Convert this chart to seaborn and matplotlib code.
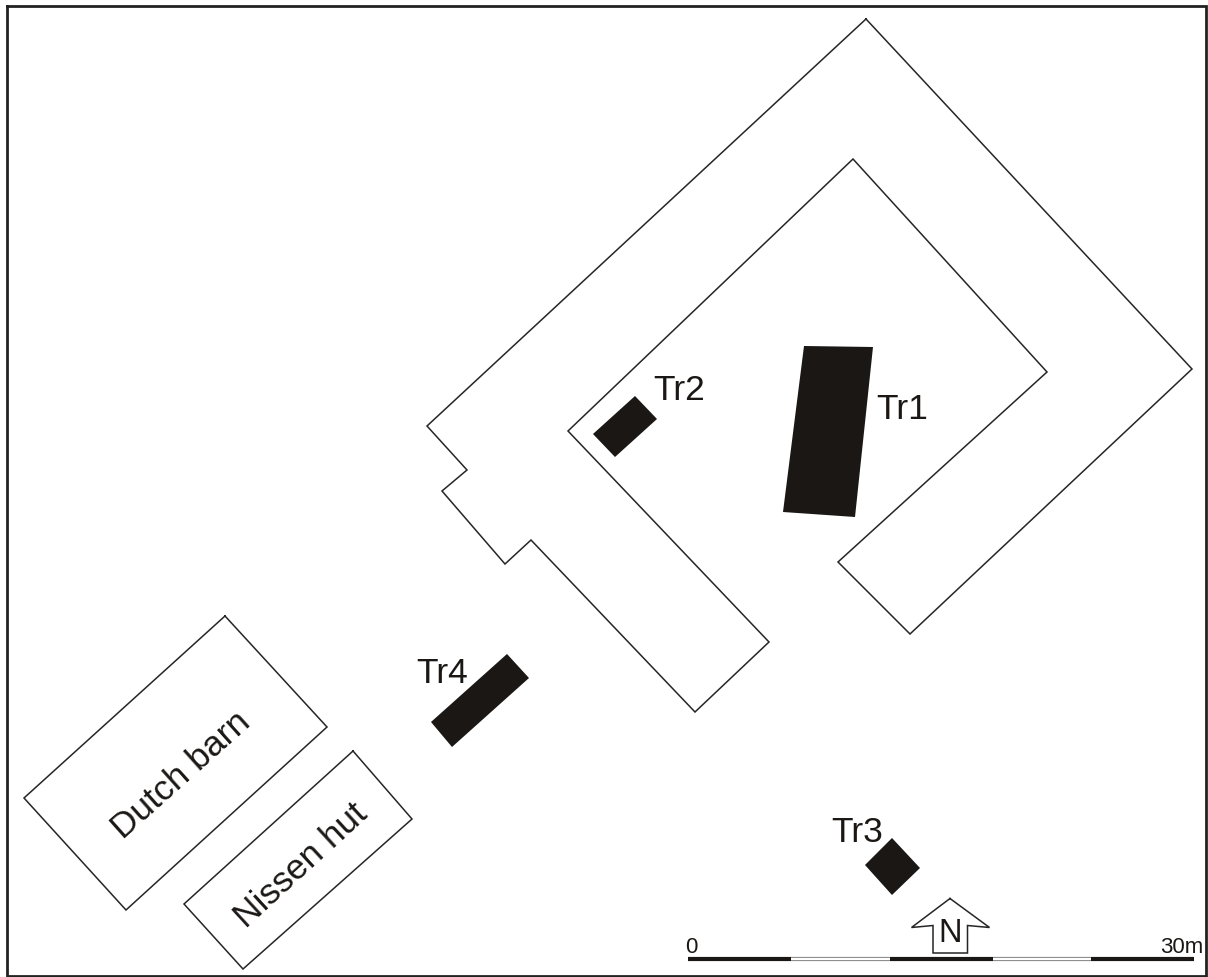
import pandas as pd
import seaborn as sns
import matplotlib
matplotlib.use("Agg")
import matplotlib.pyplot as plt
from matplotlib import font_manager as fm

sns.set_theme(style="white")
plt.rcParams['font.family'] = ['Liberation Sans', 'DejaVu Sans']

W, H = 1208, 978

# Site plan geometry, read in picture pixels
building_x = [866, 1192, 910, 838, 1047, 853, 568, 769, 695, 531, 505, 442, 467, 427, 866]
building_y = [20, 370, 635, 563, 373, 160, 432, 643, 713, 541, 565, 492, 471, 427, 20]
barn_x = [225, 327, 126, 24, 225]
barn_y = [617, 728, 911, 799, 617]
hut_x = [353, 412, 243, 184, 353]
hut_y = [752, 820, 970, 905, 752]
arrow_x = [950, 989.5, 967.5, 967.5, 933, 933, 911.5, 950]
arrow_y = [899.5, 928.5, 926.5, 954, 954, 926.5, 928.5, 899.5]
frame_x = [7, 1206, 1206, 7, 7]
frame_y = [7, 7, 976.5, 976.5, 7]

tr1_x, tr1_y = [804, 873, 855, 783], [347, 348, 518, 513]
tr2_x, tr2_y = [635, 657, 615, 593], [397, 420, 458, 435]
tr3_x, tr3_y = [892, 920, 892, 865], [839, 869, 896, 866]
tr4_x, tr4_y = [507, 529, 452, 431], [655, 679, 748, 723]

scale_edges = [688, 791, 889.5, 993, 1091, 1194]
scale_fill = ['black', 'white', 'black', 'white', 'black']
scale_y = 959.5

trench_labels = ['Tr1', 'Tr2', 'Tr3', 'Tr4']
trench_label_x = [902.5, 679, 857, 442.5]
trench_label_y = [419, 400.5, 842.5, 683]

fig = plt.figure(figsize=(W / 100, H / 100), dpi=100, facecolor='white')
ax = fig.add_axes([0, 0, 1, 1])

INK = '#1a1715'


def outline(xs, ys, lw=1.1, color='#262626'):
    df = pd.DataFrame({'x': xs, 'y': ys})
    sns.lineplot(data=df, x='x', y='y', sort=False, estimator=None, ax=ax,
                 color=color, linewidth=lw, legend=False,
                 solid_joinstyle='miter', solid_capstyle='projecting')


outline(building_x, building_y)
outline(barn_x, barn_y)
outline(hut_x, hut_y)
outline(arrow_x, arrow_y)
outline(frame_x, frame_y, lw=2.0, color='#222222')

for xs, ys in [(tr1_x, tr1_y), (tr2_x, tr2_y), (tr3_x, tr3_y), (tr4_x, tr4_y)]:
    ax.fill(xs, ys, color=INK, linewidth=0)

for i, fc in enumerate(scale_fill):
    left, right = scale_edges[i], scale_edges[i + 1]
    if fc == 'black':
        ax.plot([left, right], [scale_y, scale_y], color=INK, lw=3.0, solid_capstyle='butt')
    else:
        ax.plot([left, right], [scale_y, scale_y], color='#777777', lw=3.0, solid_capstyle='butt')
        ax.plot([left, right], [scale_y, scale_y], color='white', lw=1.7, solid_capstyle='butt')

for lab, x, y in zip(trench_labels, trench_label_x, trench_label_y):
    ax.text(x, y, lab, fontsize=25.5, ha='center', va='baseline', color=INK)

ax.text(187.5, 782.5, 'Dutch barn', fontsize=25.5, rotation=41.8, rotation_mode='anchor',
        ha='center', va='baseline', color=INK)
ax.text(308, 873, 'Nissen hut', fontsize=25.5, rotation=42.5, rotation_mode='anchor',
        ha='center', va='baseline', color=INK)
ax.text(691, 953, '0', fontsize=16, ha='center', va='baseline', color=INK)
ax.text(1203, 953, '30m', fontsize=16, ha='right', va='baseline', color=INK)

try:
    fm.findfont('Liberation Sans Narrow', fallback_to_default=False)
    n_family, n_size = 'Liberation Sans Narrow', 25
except ValueError:
    n_family, n_size = 'Liberation Sans', 23.5
ax.text(950, 941.5, 'N', fontsize=n_size, ha='center', va='baseline', color=INK, family=n_family)

ax.set_xlim(0, W)
ax.set_ylim(H, 0)
ax.axis('off')
fig.savefig('out.png', dpi=100, facecolor='white')
